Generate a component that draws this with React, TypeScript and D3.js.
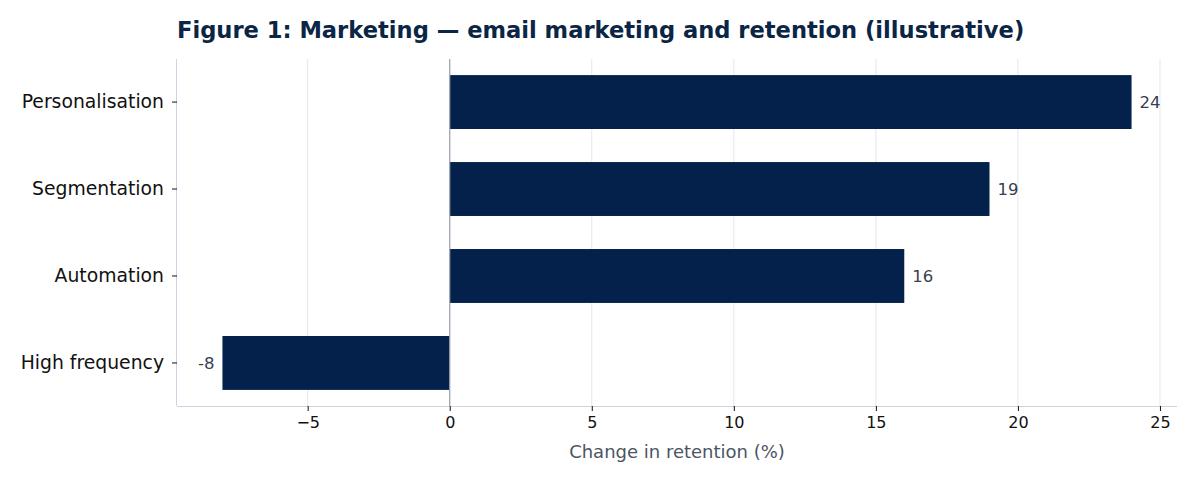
import * as d3 from "d3";
import { useEffect, useRef } from "react";

const categories = ["Personalisation", "Segmentation", "Automation", "High frequency"];
const values = [24, 19, 16, -8];
const xTicks = [-5, 0, 5, 10, 15, 20, 25];

const TITLE = "Figure 1: Marketing \u2014 email marketing and retention (illustrative)";
const X_LABEL = "Change in retention (%)";

const COLORS = {
  bar: "#03214a",
  title: "#0b2545",
  grid: "#e5e7eb",
  spine: "#cbd5e1",
  zero: "#9ca3af",
  value: "#374151",
  label: "#4b5563",
  tick: "#111111",
};

const WIDTH = 1180;
const HEIGHT = 465;
const FONT = "'DejaVu Sans', sans-serif";

export default function App() {
  const svgRef = useRef<SVGSVGElement | null>(null);

  useEffect(() => {
    if (!svgRef.current) return;
    const margin = { top: 51, right: 11, bottom: 67, left: 169 };
    const innerWidth = WIDTH - margin.left - margin.right;
    const innerHeight = HEIGHT - margin.top - margin.bottom;

    const svg = d3.select(svgRef.current);
    svg.selectAll("*").remove();

    // padding like matplotlib's 5% margins
    const lo = d3.min(values) as number;
    const hi = d3.max(values) as number;
    const pad = (hi - lo) * 0.05;
    const x = d3.scaleLinear().domain([lo - pad, hi + pad]).range([0, innerWidth]);

    const y = d3
      .scaleBand<string>()
      .domain(categories)
      .range([0, innerHeight])
      .paddingInner(0.38)
      .paddingOuter(0.185);

    const g = svg.append("g").attr("transform", `translate(${margin.left},${margin.top})`);

    // vertical grid
    g.append("g")
      .selectAll("line")
      .data(xTicks)
      .join("line")
      .attr("x1", (d) => x(d))
      .attr("x2", (d) => x(d))
      .attr("y1", 0)
      .attr("y2", innerHeight)
      .attr("stroke", COLORS.grid)
      .attr("stroke-width", 1);

    // bars
    g.append("g")
      .selectAll("rect")
      .data(values)
      .join("rect")
      .attr("x", (d) => x(Math.min(0, d)))
      .attr("width", (d) => Math.abs(x(d) - x(0)))
      .attr("y", (_, i) => y(categories[i]) as number)
      .attr("height", y.bandwidth())
      .attr("fill", COLORS.bar);

    // zero line
    g.append("line")
      .attr("x1", x(0))
      .attr("x2", x(0))
      .attr("y1", 0)
      .attr("y2", innerHeight)
      .attr("stroke", COLORS.zero)
      .attr("stroke-width", 1.2);

    // value labels
    g.append("g")
      .selectAll("text")
      .data(values)
      .join("text")
      .attr("x", (d) => (d >= 0 ? x(d) + 8 : x(d) - 8))
      .attr("y", (_, i) => (y(categories[i]) as number) + y.bandwidth() / 2)
      .attr("dy", "0.35em")
      .attr("text-anchor", (d) => (d >= 0 ? "start" : "end"))
      .attr("fill", COLORS.value)
      .style("font-size", "16.5px")
      .text((d) => d);

    // x axis
    const xAxis = g
      .append("g")
      .attr("transform", `translate(0,${innerHeight})`)
      .call(
        d3
          .axisBottom(x)
          .tickValues(xTicks)
          .tickSize(5)
          .tickPadding(6)
          .tickFormat((d) => d3.format("")(d as number).replace("-", "\u2212"))
      );
    xAxis.select(".domain").attr("stroke", COLORS.spine).attr("d", `M0,0.5H${innerWidth}`);
    xAxis.selectAll(".tick line").attr("stroke", COLORS.tick);
    xAxis
      .selectAll(".tick text")
      .attr("fill", COLORS.tick)
      .style("font-size", "16px")
      .style("font-family", FONT);

    // y axis
    const yAxis = g.append("g").call(d3.axisLeft(y).tickSize(5).tickPadding(8));
    yAxis.select(".domain").attr("stroke", COLORS.spine).attr("d", `M-0.5,0V${innerHeight}`);
    yAxis.selectAll(".tick line").attr("stroke", COLORS.tick);
    yAxis
      .selectAll(".tick text")
      .attr("fill", COLORS.tick)
      .style("font-size", "18.8px")
      .style("font-family", FONT);

    // x label
    g.append("text")
      .attr("x", innerWidth / 2)
      .attr("y", innerHeight + 52)
      .attr("text-anchor", "middle")
      .attr("fill", COLORS.label)
      .style("font-size", "18px")
      .text(X_LABEL);

    // title
    svg
      .append("text")
      .attr("x", margin.left)
      .attr("y", 30)
      .attr("fill", COLORS.title)
      .style("font-size", "22.6px")
      .style("font-weight", "bold")
      .text(TITLE);
  }, []);

  return (
    <svg
      ref={svgRef}
      width={WIDTH}
      height={HEIGHT}
      style={{ display: "block", fontFamily: FONT, background: "#fff" }}
    />
  );
}
